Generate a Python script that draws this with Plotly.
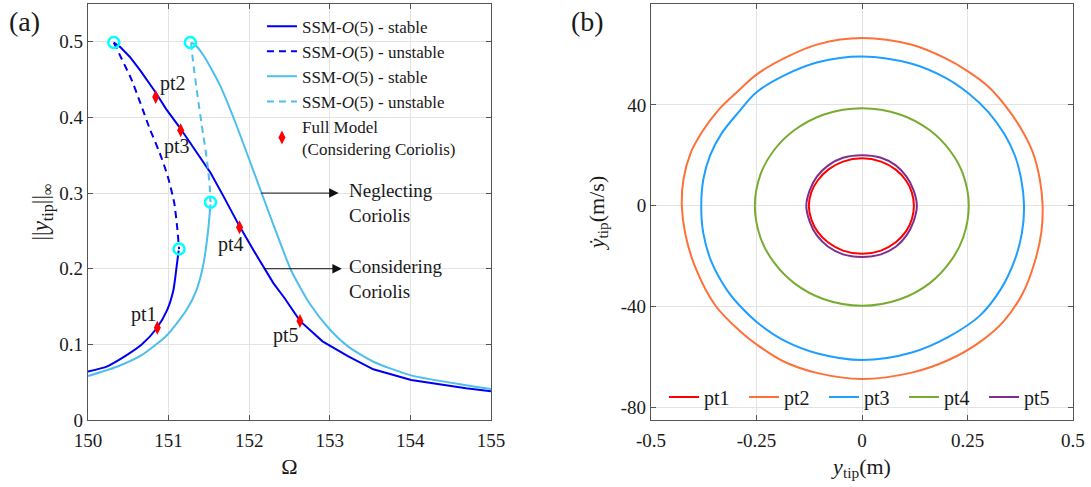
import plotly.graph_objects as go

# ---------------- panel (a): frequency response ----------------
# SSM-O(5), considering Coriolis (dark blue)
cor_stable_low_w = [150.0, 150.24, 150.47, 150.67, 150.85, 150.98, 151.06, 151.10, 151.125]
cor_stable_low_a = [0.064, 0.071, 0.085, 0.100, 0.121, 0.145, 0.172, 0.203, 0.224]
cor_unstable_w = [150.32, 150.42, 150.54, 150.65, 150.77, 150.89, 150.99, 151.07, 151.11, 151.13]
cor_unstable_a = [0.499, 0.477, 0.450, 0.419, 0.384, 0.353, 0.322, 0.287, 0.251, 0.226]
cor_stable_up_w = [150.32, 150.40, 150.52, 150.65, 150.84, 150.97, 151.13, 151.32, 151.52, 151.68,
                   151.87, 152.05, 152.30, 152.44, 152.63, 152.91, 153.23, 153.54, 154.01, 154.69,
                   155.0]
cor_stable_up_a = [0.499, 0.493, 0.480, 0.462, 0.433, 0.411, 0.388, 0.358, 0.327, 0.296,
                   0.258, 0.225, 0.181, 0.161, 0.131, 0.104, 0.084, 0.067, 0.053, 0.042,
                   0.038]

# SSM-O(5), neglecting Coriolis (light blue)
neg_stable_low_w = [150.0, 150.35, 150.67, 150.98, 151.22, 151.34, 151.43, 151.49, 151.52]
neg_stable_low_a = [0.058, 0.070, 0.086, 0.112, 0.145, 0.170, 0.205, 0.250, 0.285]
neg_unstable_w = [151.28, 151.30, 151.36, 151.42, 151.48, 151.51, 151.52]
neg_unstable_a = [0.499, 0.477, 0.428, 0.384, 0.340, 0.309, 0.288]
neg_stable_up_w = [151.28, 151.32, 151.44, 151.64, 151.83, 152.03, 152.28, 152.52,
                   152.75, 152.99, 153.23, 153.54, 154.01, 154.69, 155.0]
neg_stable_up_a = [0.499, 0.497, 0.481, 0.442, 0.393, 0.336, 0.264, 0.198,
                   0.154, 0.121, 0.097, 0.077, 0.059, 0.046, 0.041]

# bifurcation (fold) points
fold_w = [150.32, 151.27, 151.52, 151.13]
fold_a = [0.499, 0.499, 0.288, 0.226]

# full model points
full_labels = ["pt1", "pt2", "pt3", "pt4", "pt5"]
full_w = [150.86, 150.84, 151.15, 151.88, 152.63]
full_a = [0.122, 0.427, 0.383, 0.255, 0.131]
label_w = [150.70, 151.06, 151.10, 151.77, 152.46]
label_a = [0.140, 0.445, 0.361, 0.232, 0.112]

# ---------------- panel (b): phase portraits ----------------
pt1_y = [0, 0.045, 0.08, 0.105, 0.118, 0.123, 0.118, 0.105, 0.08, 0.045, 0, -0.045, -0.08,
         -0.105, -0.12, -0.126, -0.12, -0.105, -0.08, -0.045, 0]
pt1_v = [18.8, 17.5, 14.3, 9.8, 5.3, 0, -5.4, -10.0, -14.5, -17.8, -19.1, -17.8, -14.6,
         -10.4, -5.5, 0, 5.4, 10.0, 14.3, 17.5, 18.8]
pt2_y = [0, 0.118, 0.197, 0.252, 0.299, 0.338, 0.377, 0.405, 0.421, 0.428, 0.425, 0.409,
         0.380, 0.335, 0.280, 0.205, 0.118, 0, -0.105, -0.183, -0.246, -0.289, -0.348,
         -0.395, -0.419, -0.427, -0.423, -0.407, -0.38, -0.34, -0.293, -0.25, -0.183, -0.105, 0]
pt2_v = [66.5, 63.8, 58.5, 53.2, 47.3, 40.0, 30.5, 21.0, 10.8, 0, -10.5, -22.5,
         -35.0, -46.0, -54.0, -61.2, -66.2, -68.7, -66.4, -62.0, -55.5, -49.8, -39.5,
         -24.5, -11.0, 0, 10.6, 20.5, 29.0, 38.0, 45.6, 52.0, 58.6, 64.0, 66.5]
pt3_y = [0, 0.118, 0.197, 0.252, 0.299, 0.338, 0.362, 0.377, 0.384, 0.379, 0.362, 0.330,
         0.280, 0.205, 0.118, 0, -0.105, -0.183, -0.246, -0.289, -0.317, -0.356, -0.376,
         -0.381, -0.376, -0.36, -0.333, -0.293, -0.25, -0.183, -0.105, 0]
pt3_v = [59.2, 56.3, 50.8, 44.6, 37.2, 28.2, 20.0, 10.8, 0, -10.8, -21.5, -32.8,
         -43.5, -52.0, -58.2, -61.2, -58.6, -53.6, -46.6, -39.8, -34.2, -22.6, -11.0,
         0, 10.5, 20.0, 28.6, 37.0, 45.0, 51.8, 56.9, 59.2]
pt4_y = [0, 0.09, 0.16, 0.21, 0.24, 0.253, 0.24, 0.21, 0.16, 0.09, 0,
         -0.09, -0.16, -0.21, -0.241, -0.254, -0.241, -0.21, -0.16, -0.09, 0]
pt4_v = [38.7, 36.2, 30.0, 21.5, 12.2, 0, -12.5, -22.0, -30.8, -37.1, -39.7,
         -37.1, -30.8, -22.2, -12.5, 0, 12.2, 21.7, 30.0, 36.2, 38.7]
pt5_y = [0, 0.045, 0.08, 0.105, 0.122, 0.130, 0.122, 0.105, 0.08, 0.045, 0,
         -0.045, -0.08, -0.107, -0.124, -0.132, -0.124, -0.107, -0.08, -0.045, 0]
pt5_v = [20.0, 19.0, 16.0, 11.6, 6.2, 0, -6.3, -11.9, -16.3, -19.3, -20.3,
         -19.3, -16.3, -11.8, -6.3, 0, 6.1, 11.5, 16.0, 19.0, 20.0]

orbit_names = ["pt1", "pt2", "pt3", "pt4", "pt5"]
orbit_colors = ["#FF0000", "#FF7038", "#1E9EFF", "#77AC30", "#7E2F8E"]

x2_ticks = [-0.5, -0.25, 0, 0.25, 0.5]
x2_ticktext = ["-0.5", "-0.25", "0", "0.25", "0.5"]
y2_ticks = [-80, -40, 0, 40, 80]
y2_ticktext = ["-80", "-40", "0", "40", "80"]

FONT = "Liberation Serif"
DARK = "#0000F0"
LIGHT = "#4DBEEE"
SSM = "SSM-<i>O</i>(5)"

fig = go.Figure()

# panel (a) curves
fig.add_trace(go.Scatter(x=cor_stable_low_w, y=cor_stable_low_a, mode="lines",
                         line=dict(color=DARK, width=2, shape="spline", smoothing=0.6),
                         name=SSM + " - stable", legendgroup="cs", legend="legend"))
fig.add_trace(go.Scatter(x=cor_stable_up_w, y=cor_stable_up_a, mode="lines",
                         line=dict(color=DARK, width=2), showlegend=False, legendgroup="cs"))
fig.add_trace(go.Scatter(x=cor_unstable_w, y=cor_unstable_a, mode="lines",
                         line=dict(color=DARK, width=2, dash="7px,5px", shape="spline",
                                   smoothing=0.6),
                         name=SSM + " - unstable", legend="legend"))
fig.add_trace(go.Scatter(x=neg_stable_low_w, y=neg_stable_low_a, mode="lines",
                         line=dict(color=LIGHT, width=2, shape="spline", smoothing=0.6),
                         name=SSM + " - stable", legendgroup="ns", legend="legend"))
fig.add_trace(go.Scatter(x=neg_stable_up_w, y=neg_stable_up_a, mode="lines",
                         line=dict(color=LIGHT, width=2, shape="spline", smoothing=0.6),
                         showlegend=False, legendgroup="ns"))
fig.add_trace(go.Scatter(x=neg_unstable_w, y=neg_unstable_a, mode="lines",
                         line=dict(color=LIGHT, width=2, dash="7px,5px", shape="spline",
                                   smoothing=0.6),
                         name=SSM + " - unstable", legend="legend"))
fig.add_trace(go.Scatter(x=fold_w, y=fold_a, mode="markers", showlegend=False,
                         marker=dict(symbol="circle-open", size=11, color="#00FFFF",
                                     line=dict(width=2.5, color="#00FFFF"))))
fig.add_trace(go.Scatter(x=full_w, y=full_a, mode="markers",
                         name="Full Model<br>(Considering Coriolis)", legend="legend",
                         marker=dict(symbol="diamond-tall", size=10, color="#FF0000")))

# panel (b) orbits
orbits = [(pt1_y, pt1_v), (pt2_y, pt2_v), (pt3_y, pt3_v), (pt4_y, pt4_v), (pt5_y, pt5_v)]
for name, color, (yy, vv) in zip(orbit_names, orbit_colors, orbits):
    fig.add_trace(go.Scatter(x=yy, y=vv, mode="lines", name=name, legend="legend2",
                             line=dict(color=color, width=2, shape="spline", smoothing=1.0),
                             xaxis="x2", yaxis="y2"))

annotations = []
for lab, lw, la in zip(full_labels, label_w, label_a):
    annotations.append(dict(x=lw, y=la, xref="x", yref="y", text=lab, showarrow=False,
                            font=dict(size=20, family=FONT, color="#1a1a1a")))

# arrows pointing to the two curve families
for y0, x_tail, x_head, txt in [(0.3, 152.13, 153.11, "Neglecting<br>Coriolis"),
                                (0.2, 152.17, 153.15, "Considering<br>Coriolis")]:
    annotations.append(dict(x=x_head, y=y0, ax=x_tail, ay=y0, xref="x", yref="y",
                            axref="x", ayref="y", text="", showarrow=True,
                            arrowhead=2, arrowsize=1.9, arrowwidth=1, arrowcolor="#111"))
    annotations.append(dict(x=153.21, y=y0 - 0.013, xref="x", yref="y", text=txt,
                            showarrow=False, xanchor="left", yanchor="middle", align="left",
                            font=dict(size=19, family=FONT, color="#1a1a1a")))

annotations.append(dict(x=-0.082, y=1.0, xref="paper", yref="paper", text="(a)",
                        showarrow=False, xanchor="left", yanchor="top",
                        font=dict(size=28, family=FONT, color="#1a1a1a")))
annotations.append(dict(x=0.488, y=1.0, xref="paper", yref="paper", text="(b)",
                        showarrow=False, xanchor="left", yanchor="top",
                        font=dict(size=28, family=FONT, color="#1a1a1a")))

axis_style = dict(showline=True, linecolor="#555", linewidth=1.2, mirror="ticks",
                  ticks="inside", ticklen=5, tickcolor="#555", showgrid=True,
                  gridcolor="#E3E3E3", gridwidth=1, zeroline=False, automargin=False,
                  tickfont=dict(size=19, family=FONT, color="#1a1a1a"))

fig.update_layout(
    width=1091, height=487,
    margin=dict(l=88, r=18, t=4, b=67, autoexpand=False),
    paper_bgcolor="white", plot_bgcolor="white",
    font=dict(family=FONT, color="#1a1a1a"),
    xaxis=dict(domain=[0, 0.4091], range=[150, 155], dtick=1, ticklabelstandoff=3,
               title=dict(text="Ω", font=dict(size=22, family=FONT), standoff=8),
               **axis_style),
    yaxis=dict(domain=[0, 1], range=[0, 0.55], tickvals=[0, 0.1, 0.2, 0.3, 0.4, 0.5],
               title=dict(text="||<i>y</i><sub>tip</sub>||<sub>∞</sub>",
                          font=dict(size=23, family=FONT), standoff=4),
               **axis_style),
    xaxis2=dict(domain=[0.5716, 1.0], range=[-0.5, 0.5], anchor="y2", ticklabelstandoff=3,
                tickvals=x2_ticks, ticktext=x2_ticktext,
                title=dict(text="<i>y</i><sub>tip</sub>(m)", font=dict(size=22, family=FONT),
                           standoff=8),
                **axis_style),
    yaxis2=dict(domain=[0, 1], range=[-85, 80], anchor="x2",
                tickvals=y2_ticks, ticktext=y2_ticktext,
                title=dict(text="<i>ẏ</i><sub>tip</sub>(m/s)", font=dict(size=22, family=FONT),
                           standoff=10),
                **axis_style),
    legend=dict(x=0.1766, y=0.989, xanchor="left", yanchor="top",
                bgcolor="rgba(0,0,0,0)", borderwidth=0,
                font=dict(size=17, family=FONT, color="#1a1a1a"), tracegroupgap=0),
    legend2=dict(x=0.5848, y=0.0553, xanchor="left", yanchor="middle", orientation="h",
                 bgcolor="rgba(0,0,0,0)", borderwidth=0, entrywidth=35,
                 entrywidthmode="pixels",
                 font=dict(size=20, family=FONT, color="#1a1a1a")),
    annotations=annotations,
    showlegend=True,
)

fig.write_html("out.html")
